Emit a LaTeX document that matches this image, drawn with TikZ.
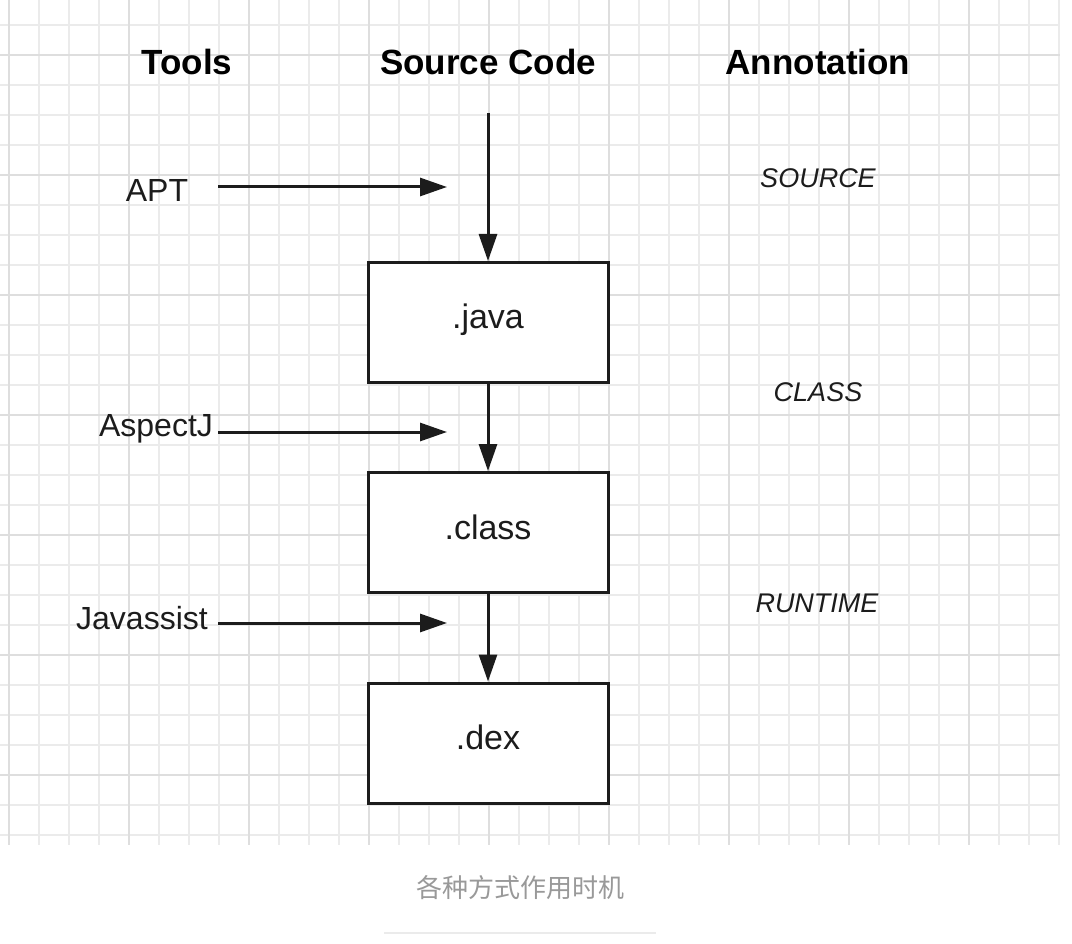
\documentclass[tikz,border=0pt]{standalone}
\usepackage{fontspec}
\setmainfont{Liberation Sans}
\newfontfamily\cjkfont{Noto Sans CJK SC}
\usepackage{xcolor}
\usetikzlibrary{arrows.meta}
\definecolor{inkc}{HTML}{1C1C1C}
\definecolor{gridminor}{HTML}{EBEBEB}
\definecolor{gridmajor}{HTML}{DEDEDE}
\definecolor{capgray}{HTML}{999999}
\definecolor{rulegray}{HTML}{EBEBEB}

\begin{document}
\begin{tikzpicture}[x=1pt, y=-1pt,
    box/.style={draw=inkc, line width=3pt, fill=white, minimum width=240pt, minimum height=120pt, inner sep=0pt, text height=25pt, text depth=12pt, text=inkc, font=\fontsize{34}{40}\selectfont},
    arr/.style={draw=inkc, line width=3pt, -{Triangle[length=27pt, width=18pt]}},
    head/.style={text=black, font=\fontsize{35}{42}\selectfont\bfseries},
    tool/.style={text=inkc, font=\fontsize{32}{38}\selectfont},
    anno/.style={text=inkc, font=\fontsize{27}{32}\selectfont\itshape}]
        \useasboundingbox (0,0) rectangle (1072,944);
        \fill[white] (0,0) rectangle (1072,944);
        % grid
        \foreach \gx in {9,39,...,1059} \draw[gridminor, line width=1.5pt] (\gx,0) -- (\gx,845);
        \foreach \gy in {25,55,...,835} \draw[gridminor, line width=1.5pt] (0,\gy) -- (1060,\gy);
        \foreach \gx in {9,129,...,969} \draw[gridmajor, line width=1.8pt] (\gx,0) -- (\gx,845);
        \foreach \gy in {55,175,...,775} \draw[gridmajor, line width=1.8pt] (0,\gy) -- (1060,\gy);
        % column titles
        \node[head] (tools) at (187,62) {Tools};
        \node[head] (code) at (488,62) {Source Code};
        \node[head] (annotation) at (818,62) {Annotation};
        % source code chain
        \node[box] (java) at (488,322.5) {.java};
        \node[box] (class) at (488,532.5) {.class};
        \node[box] (dex) at (488,743) {.dex};
        \coordinate (src) at (488,113);
        \draw[arr] (src) -- (java.north);
        \draw[arr] (java.south) -- (class.north);
        \draw[arr] (class.south) -- (dex.north);
        % tools
        \node[tool] (apt) at (157,190) {APT};
        \node[tool] (aspectj) at (156,429) {AspectJ};
        \node[tool] (javassist) at (142,618) {Javassist};
        \coordinate (apt-s) at (218,187);
        \coordinate (apt-t) at (447,187);
        \coordinate (aspectj-s) at (218,432);
        \coordinate (aspectj-t) at (447,432);
        \coordinate (javassist-s) at (218,623);
        \coordinate (javassist-t) at (447,623);
        \draw[arr] (apt-s) -- (apt-t);
        \draw[arr] (aspectj-s) -- (aspectj-t);
        \draw[arr] (javassist-s) -- (javassist-t);
        % retention
        \node[anno] (source) at (818,178) {SOURCE};
        \node[anno] (classret) at (818,392) {CLASS};
        \node[anno] (runtime) at (817,603) {RUNTIME};
        % caption
        \node[text=capgray, font=\cjkfont\fontsize{26}{30}\selectfont] (caption) at (520,888) {各种方式作用时机};
        \draw[rulegray, line width=2pt] (384,933) -- (656,933);
    \end{tikzpicture}
\end{document}
